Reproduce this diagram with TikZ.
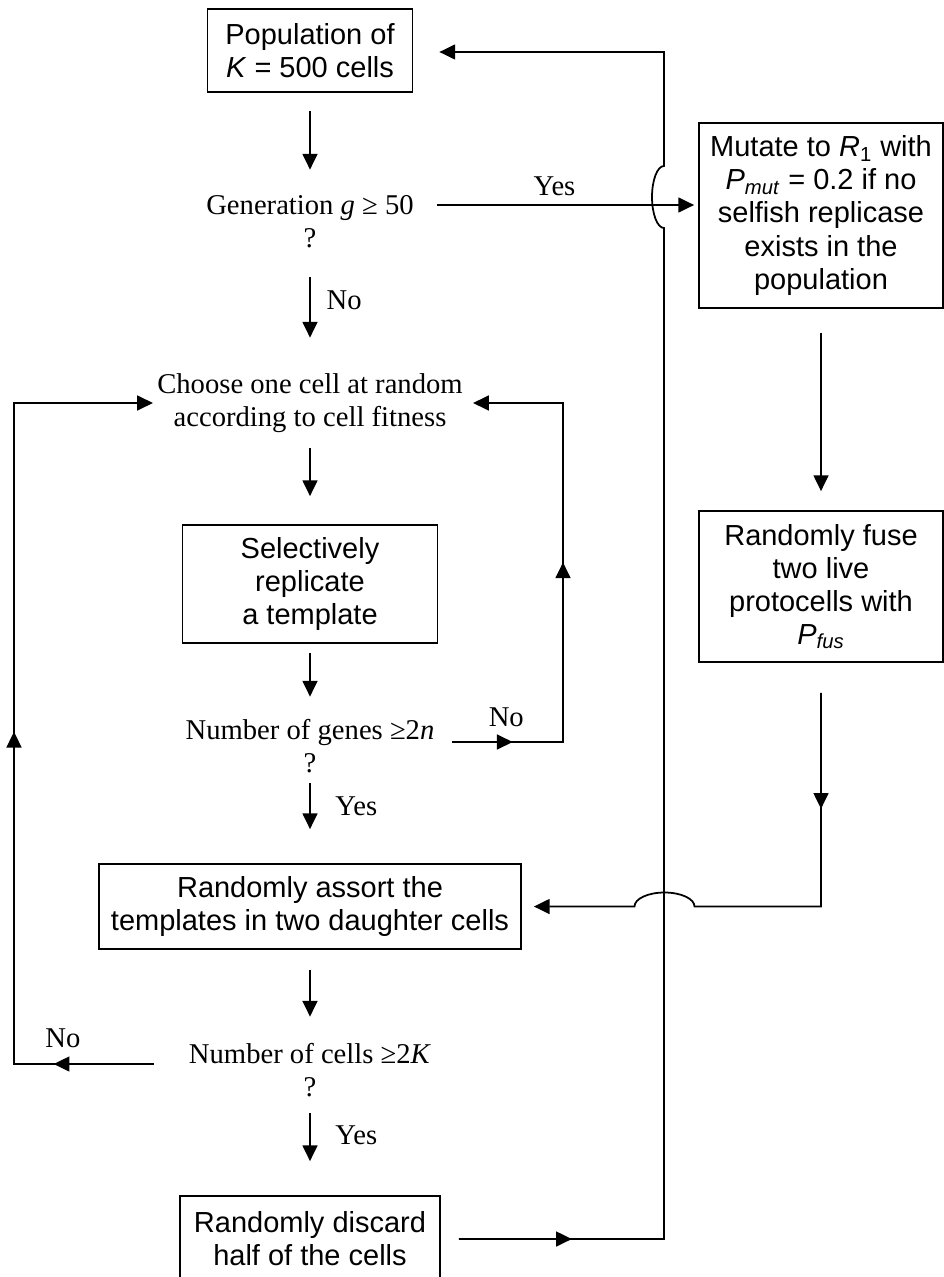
\documentclass[tikz,border=0pt]{standalone}
\usepackage{fontspec}
\setmainfont{Liberation Serif}
\newfontfamily\arialfont{Liberation Sans}
\usetikzlibrary{arrows.meta,decorations.markings,positioning}
\newlength\px
\setlength\px{0.02cm}
\tikzset{
  box/.style={draw, line width=1pt, align=center, inner sep=0pt, font=\arialfont\fontsize{16.5}{18.8}\selectfont},
  ask/.style={align=center, inner sep=0pt, minimum height=70\px, font=\fontsize{16.3}{18.8}\selectfont},
  lbl/.style={inner sep=0pt, font=\fontsize{16.3}{18.8}\selectfont},
  flow/.style={line width=1pt, -{Triangle[length=9pt, width=8.5pt]}},
  midtip/.style={postaction={decorate}, decoration={markings,
    mark=at position #1 with {\arrow{Triangle[length=9pt, width=8.5pt]}}}},
  midtips/.style 2 args={postaction={decorate}, decoration={markings,
    mark=at position #1 with {\arrow{Triangle[length=9pt, width=8.5pt]}},
    mark=at position #2 with {\arrow{Triangle[length=9pt, width=8.5pt]}}}},
}
\begin{document}
\begin{tikzpicture}[x=0.02cm, y=-0.02cm]
  \useasboundingbox (0,0) rectangle (943,1277);

  % --- main column ---
  \node[box, minimum width=205\px, minimum height=83\px] (pop) at (310,50.5) {Population of\\\textit{K} = 500 cells};
  \node[ask] (gen) at (310,221.5) {Generation \textit{g} ≥ 50\\?};
  \node[ask] (choose) at (310,403) {Choose one cell at random\\according to cell fitness};
  \node[box, minimum width=255\px, minimum height=118\px] (select) at (310,584) {Selectively\\replicate\\a template};
  \node[ask] (genes) at (310,746) {Number of genes ≥2\textit{n}\\?};
  \node[box, minimum width=422\px, minimum height=85\px] (assort) at (310,906.5) {Randomly assort the\\templates in two daughter cells};
  \node[ask] (cells) at (310,1070) {Number of cells ≥2\textit{K}\\?};
  \node[box, minimum width=260\px, minimum height=86\px] (discard) at (310,1239) {Randomly discard\\half of the cells};

  % --- right column ---
  \node[box, minimum width=244\px, minimum height=185\px] (mutate) at (821,215.5) {Mutate to \textit{R}\textsubscript{1} with\\\textit{P}\textsubscript{\textit{mut}} = 0.2 if no\\selfish replicase\\exists in the\\population};
  \node[box, minimum width=244\px, minimum height=151\px] (fuse) at (821,586.5) {Randomly fuse\\two live\\protocells with\\\textit{P}\textsubscript{\textit{fus}}};

  % loop rails
  \coordinate (rail) at (664,52);
  \coordinate (lrail) at (14,403);
  \coordinate (rrail) at (563,403);

  % straight arrows
  \draw[flow, shorten <=18\px, shorten >=16.5\px] (pop.south) -- (gen.north);
  \draw[flow, shorten <=20.5\px, shorten >=30\px] (gen.south) -- node[lbl, right=9pt, pos=0.39] {No} (choose.north);
  \draw[flow, shorten <=10\px, shorten >=28\px] (choose.south) -- (select.north);
  \draw[flow, shorten <=9\px, shorten >=14\px] (select.south) -- (genes.north);
  \draw[flow, shorten <=2\px, shorten >=34\px] (genes.south) -- node[lbl, right=14pt, pos=0.3] {Yes} (assort.north);
  \draw[flow, shorten <=20\px, shorten >=18\px] (assort.south) -- (cells.north);
  \draw[flow, shorten <=8\px, shorten >=34\px] (cells.south) -- node[lbl, right=14pt, pos=0.33] {Yes} (discard.north);
  \draw[flow, shorten <=24\px, shorten >=19\px] (mutate.south) -- (fuse.north);

  % yes branch to the right
  \draw[flow, shorten >=4\px] ([xshift=23\px, yshift=16.5\px]gen.east) coordinate (ys)
    -- node[lbl, above=5pt, pos=0.45] {Yes} (ys -| mutate.west);

  % back to the population, hopping over the yes branch
  \draw[flow, midtip=2.26cm, shorten >=26\px] ([xshift=18\px]discard.east) -- (discard.east -| rail)
    -- (664,228) arc[start angle=90, end angle=270, x radius=12, y radius=31]
    -- (rail) -- (pop.east |- rail);

  % fused cells into the division step
  \draw[flow, midtip=2.32cm, shorten >=12\px] ([yshift=-30\px]fuse.south) -- (fuse.south |- assort.east)
    -- (694.5,906.5) arc[start angle=0, end angle=-180, x radius=30, y radius=14]
    -- (assort.east);

  % loops back to choosing a cell
  \draw[flow, midtips={1.22cm}{5.82cm}, shorten >=10\px] ([xshift=17\px, yshift=4\px]genes.east) coordinate (gs)
    -- node[lbl, above=8pt, pos=0.49] {No} (gs -| rrail) -- (rrail) -- (choose.east);
  \draw[flow, midtips={2cm}{9.44cm}, shorten >=4\px] ([xshift=-35\px, yshift=6\px]cells.west) coordinate (cs)
    -- node[lbl, above=9pt, pos=0.65] {No} (cs -| lrail) -- (lrail) -- (choose.west);
\end{tikzpicture}
\end{document}
